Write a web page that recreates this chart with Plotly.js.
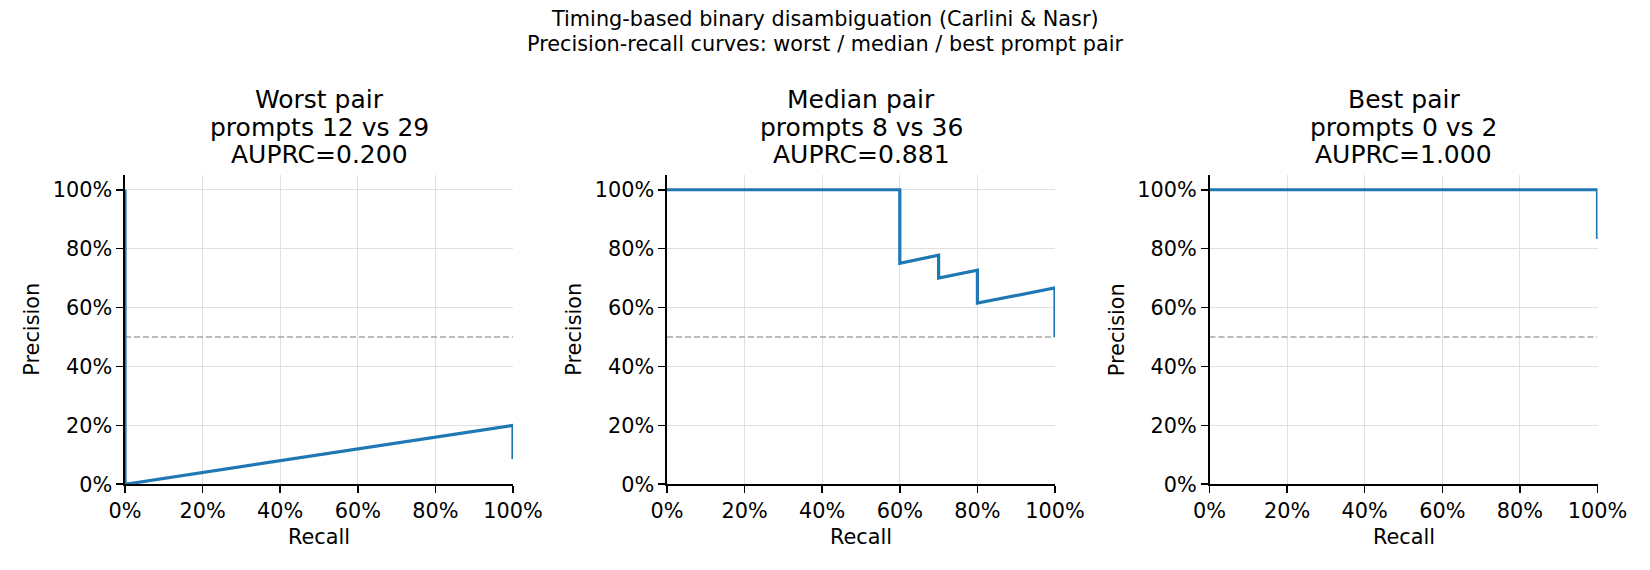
<!DOCTYPE html>
<html>
<head>
<meta charset="utf-8">
<script src="https://cdn.plot.ly/plotly-3.0.1.min.js"></script>
<style>
  html, body { margin: 0; padding: 0; background: #ffffff; }
  #chart { width: 1650px; height: 570px; }
</style>
</head>
<body>
<div id="chart"></div>
<script>
// ---- data ----
const suptitleLines = [
  "Timing-based binary disambiguation (Carlini & Nasr)",
  "Precision-recall curves: worst / median / best prompt pair"
];
const panelNames = ["Worst pair", "Median pair", "Best pair"];
const panelPrompts = ["prompts 12 vs 29", "prompts 8 vs 36", "prompts 0 vs 2"];
const panelAuprc = ["AUPRC=0.200", "AUPRC=0.881", "AUPRC=1.000"];

const worstRecall    = [0, 0, 1.0, 1.0];
const worstPrecision = [1.0, 0, 0.20, 0.086];

const medianRecall    = [0, 0.6, 0.6, 0.7, 0.7, 0.8, 0.8, 1.0, 1.0];
const medianPrecision = [1.0, 1.0, 0.75, 0.778, 0.70, 0.727, 0.615, 0.667, 0.50];

const bestRecall    = [0, 1.0, 1.0];
const bestPrecision = [1.0, 1.0, 0.833];

const chanceRecall    = [0, 1];
const chancePrecision = [0.5, 0.5];

const tickValues = [0, 0.2, 0.4, 0.6, 0.8, 1.0];
const xLabel = "Recall";
const yLabel = "Precision";

// ---- layout helpers ----
const W = 1650, H = 570;
const FONT = "DejaVu Sans";
const xDomainsPx = [[125, 513], [667, 1055], [1209.5, 1597.5]];
const yDomainPx = [175, 484.3]; // top, bottom in pixels
const px2x = p => p / W;
const px2y = p => (H - p) / H;

const curves = [
  [worstRecall, worstPrecision],
  [medianRecall, medianPrecision],
  [bestRecall, bestPrecision]
];

const traces = [];
curves.forEach((c, i) => {
  const sfx = i === 0 ? "" : String(i + 1);
  traces.push({
    x: chanceRecall, y: chancePrecision, type: "scatter", mode: "lines",
    xaxis: "x" + sfx, yaxis: "y" + sfx, hoverinfo: "skip", showlegend: false,
    line: { color: "#a6a6a6", width: 1.3, dash: "6px,3px" }
  });
  traces.push({
    x: c[0], y: c[1], type: "scatter", mode: "lines",
    xaxis: "x" + sfx, yaxis: "y" + sfx, showlegend: false,
    line: { color: "#1f77b4", width: 3.2 }
  });
});

const axisCommon = {
  showline: true, linecolor: "#000000", linewidth: 1.6,
  ticks: "outside", ticklen: 7, tickwidth: 1.6, tickcolor: "#000000",
  showgrid: true, gridcolor: "#e0e0e0", gridwidth: 1,
  zeroline: false, mirror: false, automargin: false, fixedrange: true,
  tickvals: tickValues, tickformat: ".0%",
  tickfont: { family: FONT, size: 20.8, color: "#000000" }
};

const layout = {
  width: W, height: H,
  margin: { l: 0, r: 0, t: 0, b: 0, pad: 0 },
  paper_bgcolor: "#ffffff", plot_bgcolor: "#ffffff",
  showlegend: false,
  font: { family: FONT, color: "#000000" },
  annotations: []
};

xDomainsPx.forEach((d, i) => {
  const sfx = i === 0 ? "" : String(i + 1);
  layout["xaxis" + sfx] = Object.assign({}, axisCommon, {
    domain: [px2x(d[0]), px2x(d[1])], range: [0, 1], anchor: "y" + sfx
  });
  layout["yaxis" + sfx] = Object.assign({}, axisCommon, {
    domain: [px2y(yDomainPx[1]), px2y(yDomainPx[0])], range: [0, 1.05], anchor: "x" + sfx
  });
  const cx = (d[0] + d[1]) / 2;
  const titleLines = [panelNames[i], panelPrompts[i], panelAuprc[i]];
  const titleCenters = [99.2, 127, 154.7];
  titleLines.forEach((t, k) => {
    layout.annotations.push({
      text: t, xref: "paper", yref: "paper",
      x: px2x(cx), y: px2y(titleCenters[k]),
      xanchor: "center", yanchor: "middle", showarrow: false,
      font: { family: FONT, size: 25, color: "#000000" }
    });
  });
  layout.annotations.push({
    text: xLabel, xref: "paper", yref: "paper",
    x: px2x(cx), y: px2y(537), xanchor: "center", yanchor: "middle",
    showarrow: false, font: { family: FONT, size: 20.8, color: "#000000" }
  });
  layout.annotations.push({
    text: yLabel, xref: "paper", yref: "paper",
    x: px2x(d[0] - 93), y: px2y((yDomainPx[0] + yDomainPx[1]) / 2),
    xanchor: "center", yanchor: "middle", textangle: -90,
    showarrow: false, font: { family: FONT, size: 20.8, color: "#000000" }
  });
});

const supCenters = [19, 44];
suptitleLines.forEach((t, k) => {
  layout.annotations.push({
    text: t, xref: "paper", yref: "paper",
    x: 0.5, y: px2y(supCenters[k]), xanchor: "center", yanchor: "middle",
    showarrow: false, font: { family: FONT, size: 20.8, color: "#000000" }
  });
});

Plotly.newPlot("chart", traces, layout, { displayModeBar: false, staticPlot: true });
</script>
</body>
</html>
